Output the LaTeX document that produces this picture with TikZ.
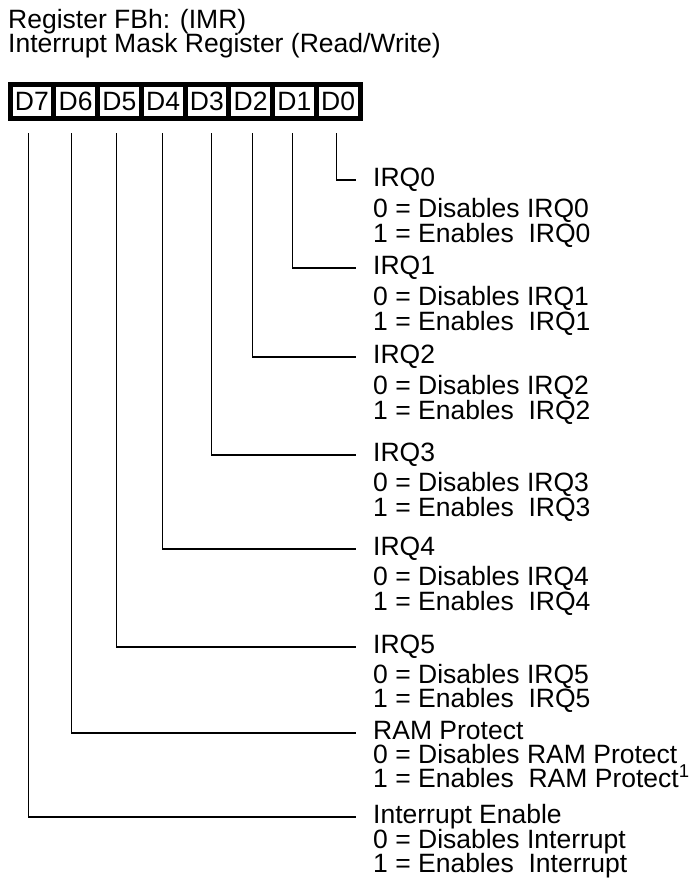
\documentclass[tikz,border=0pt]{standalone}
\usepackage{fontspec}
\setmainfont{Liberation Sans}
\usetikzlibrary{calc}
\begin{document}
\begin{tikzpicture}[x=1pt,y=-1pt,
  txt/.style={font=\fontsize{26.5}{30}\selectfont, anchor=base west, inner sep=0pt},
  bitbox/.style={draw, line width=5pt, minimum width=43.75pt, minimum height=34pt, inner sep=0pt, font=\fontsize{26.5}{30}\selectfont},
  conn/.style={line width=1.1pt}]
\useasboundingbox (0,0) rectangle (691,879);
\node[txt] (h1) at (8,28) {Register FBh: (IMR)};
\node[txt] (h2) at (8,52) {Interrupt Mask Register (Read/Write)};
% bit boxes
\foreach \n [count=\i from 0] in {7,6,5,4,3,2,1,0}
  \node[bitbox] (D\n) at ({10+43.75*(\i+0.5)},101.5) {D\n};
% labels
\node[txt] (t0) at (373,186) {IRQ0};
\node[txt] (a0) at (373,217) {0 = Disables IRQ0};
\node[txt] (b0) at (373,242) {1 = Enables\ \ IRQ0};
\node[txt] (t1) at (373,274) {IRQ1};
\node[txt] (a1) at (373,305) {0 = Disables IRQ1};
\node[txt] (b1) at (373,330) {1 = Enables\ \ IRQ1};
\node[txt] (t2) at (373,363) {IRQ2};
\node[txt] (a2) at (373,394) {0 = Disables IRQ2};
\node[txt] (b2) at (373,419) {1 = Enables\ \ IRQ2};
\node[txt] (t3) at (373,461) {IRQ3};
\node[txt] (a3) at (373,491) {0 = Disables IRQ3};
\node[txt] (b3) at (373,516) {1 = Enables\ \ IRQ3};
\node[txt] (t4) at (373,555) {IRQ4};
\node[txt] (a4) at (373,585) {0 = Disables IRQ4};
\node[txt] (b4) at (373,610) {1 = Enables\ \ IRQ4};
\node[txt] (t5) at (373,653) {IRQ5};
\node[txt] (a5) at (373,683) {0 = Disables IRQ5};
\node[txt] (b5) at (373,707) {1 = Enables\ \ IRQ5};
\node[txt] (t6) at (373,739) {RAM Protect};
\node[txt] (a6) at (373,763) {0 = Disables RAM Protect};
\node[txt] (b6) at (373,787) {1 = Enables\ \ RAM Protect\textsuperscript{1}};
\node[txt] (t7) at (373,823) {Interrupt Enable};
\node[txt] (a7) at (373,848) {0 = Disables Interrupt};
\node[txt] (b7) at (373,872) {1 = Enables\ \ Interrupt};
% connectors
\foreach \n/\dx in {0/-1.25,1/-1.75,2/1.75,3/4.25,4/-0.25,5/-2.75,6/-4.25,7/-3.75}
  \draw[conn] ($(D\n.south)+(\dx,12)$) |- ($(t\n.base west)+(-17,-6)$);
\end{tikzpicture}
\end{document}
